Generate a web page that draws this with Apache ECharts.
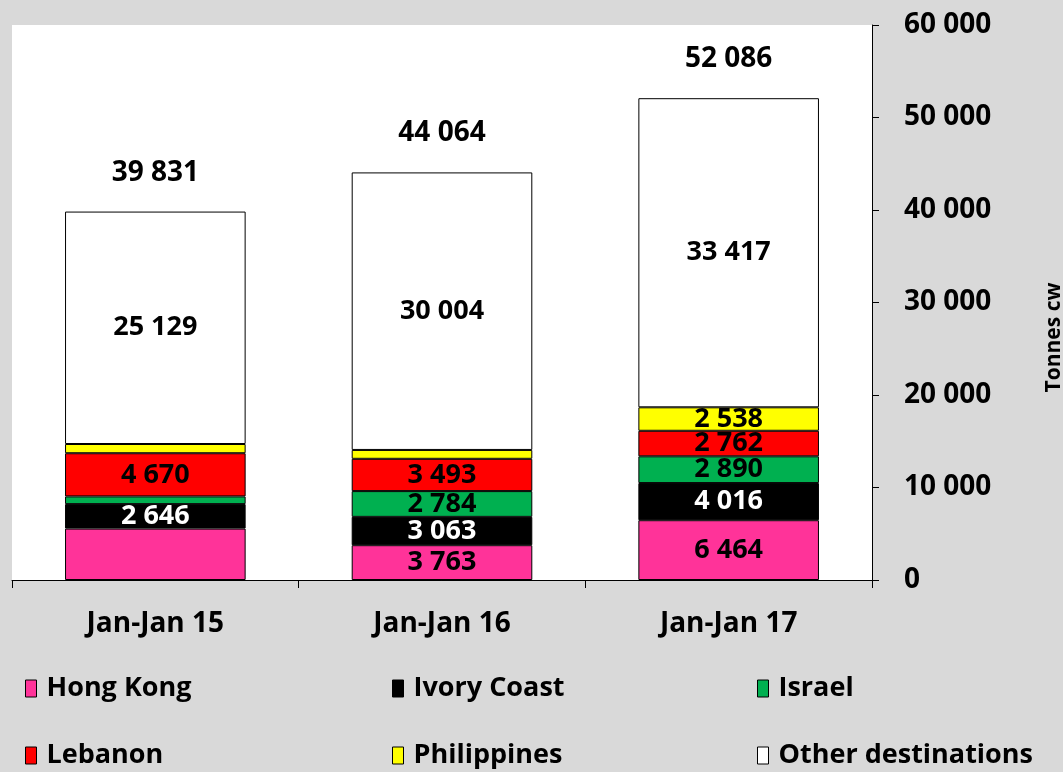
<!DOCTYPE html>
<html>
<head>
<meta charset="utf-8">
<script src="https://cdn.jsdelivr.net/npm/echarts@6/dist/echarts.min.js"></script>
<style>
  html, body { margin: 0; padding: 0; background: #d9d9d9; }
  #chart { width: 1063px; height: 772px; }
</style>
</head>
<body>
<div id="chart"></div>
<script>
const categories = ['Jan-Jan 15', 'Jan-Jan 16', 'Jan-Jan 17'];
const hongKong = [5560, 3763, 6464];
const ivoryCoast = [2646, 3063, 4016];
const israel = [830, 2784, 2890];
const lebanon = [4670, 3493, 2762];
const philippines = [996, 957, 2538];
const otherDest = [25129, 30004, 33417];
const totals = [39831, 44064, 52086];
const yTicks = [0, 10000, 20000, 30000, 40000, 50000, 60000];

// which segments carry a value label
const showHongKong = [false, true, true];
const showIsrael = [false, true, true];
const showPhilippines = [false, false, true];

const fmt = v => String(v).replace(/\B(?=(\d{3})+(?!\d))/g, ' ');
const FONT = 'Open Sans';

function seg(name, values, color, textColor, shown) {
  return {
    name: name,
    type: 'bar',
    stack: 'total',
    barWidth: '63%',
    itemStyle: { color: color, borderColor: '#000', borderWidth: 1 },
    label: {
      show: true,
      position: 'inside',
      color: textColor,
      fontFamily: FONT,
      fontWeight: 'bold',
      fontSize: 27,
      formatter: p => (shown && !shown[p.dataIndex]) ? '' : fmt(p.value)
    },
    data: values
  };
}

const series = [
  seg('Hong Kong', hongKong, '#ff3399', '#000', showHongKong),
  seg('Ivory Coast', ivoryCoast, '#000000', '#fff', null),
  seg('Israel', israel, '#00b050', '#000', showIsrael),
  seg('Lebanon', lebanon, '#ff0000', '#000', null),
  seg('Philippines', philippines, '#ffff00', '#000', showPhilippines),
  seg('Other destinations', otherDest, '#ffffff', '#000', null)
];
// total above each bar
series.push({
  name: 'total',
  type: 'bar',
  stack: 'total',
  barWidth: '63%',
  silent: true,
  itemStyle: { color: 'transparent' },
  label: {
    show: true,
    position: 'insideBottom',
    distance: 25,
    color: '#000',
    fontFamily: FONT,
    fontWeight: 'bold',
    fontSize: 28,
    formatter: p => fmt(totals[p.dataIndex])
  },
  data: totals.map(() => 0.0001)
});

// legend placement: 3 columns, 2 rows
const legendPos = [
  ['Hong Kong', 20, 670], ['Ivory Coast', 387, 670], ['Israel', 752, 670],
  ['Lebanon', 20, 737], ['Philippines', 387, 737], ['Other destinations', 752, 737]
];

const option = {
  backgroundColor: '#d9d9d9',
  animation: false,
  grid: {
    left: 12, right: 191, top: 25, bottom: 192,
    outerBoundsMode: 'none',
    containLabel: false,
    show: true, backgroundColor: '#ffffff', borderWidth: 0
  },
  legend: legendPos.map(([n, x, y]) => ({
    data: [n],
    left: x,
    top: y,
    icon: 'rect',
    itemWidth: 11,
    itemHeight: 17,
    itemStyle: { borderColor: '#000', borderWidth: 1 },
    textStyle: {
      fontFamily: FONT, fontWeight: 'bold', fontSize: 27, color: '#000',
      padding: [0, 0, 0, 5]
    }
  })),
  xAxis: {
    type: 'category',
    data: categories,
    axisLine: { lineStyle: { color: '#000', width: 1 } },
    axisTick: { show: true, length: 8, lineStyle: { color: '#000' } },
    axisLabel: {
      color: '#000', fontFamily: FONT, fontWeight: 'bold', fontSize: 28, margin: 30
    },
    splitLine: { show: false }
  },
  yAxis: {
    type: 'value',
    position: 'right',
    min: 0,
    max: 60000,
    interval: 10000,
    name: 'Tonnes cw',
    nameLocation: 'middle',
    nameRotate: 90,
    nameGap: 172,
    nameTextStyle: {
      color: '#000', fontFamily: FONT, fontWeight: 'bold', fontSize: 21,
      padding: [0, 70, 0, 0]
    },
    axisLine: { show: true, lineStyle: { color: '#000', width: 1 } },
    axisTick: { show: true, length: 7, lineStyle: { color: '#000' } },
    axisLabel: {
      color: '#000', fontFamily: FONT, fontWeight: 'bold', fontSize: 28, margin: 32,
      formatter: v => yTicks.includes(v) ? fmt(v) : ''
    },
    splitLine: { show: false }
  },
  series: series
};

const chart = echarts.init(document.getElementById('chart'));
chart.setOption(option);
</script>
</body>
</html>
